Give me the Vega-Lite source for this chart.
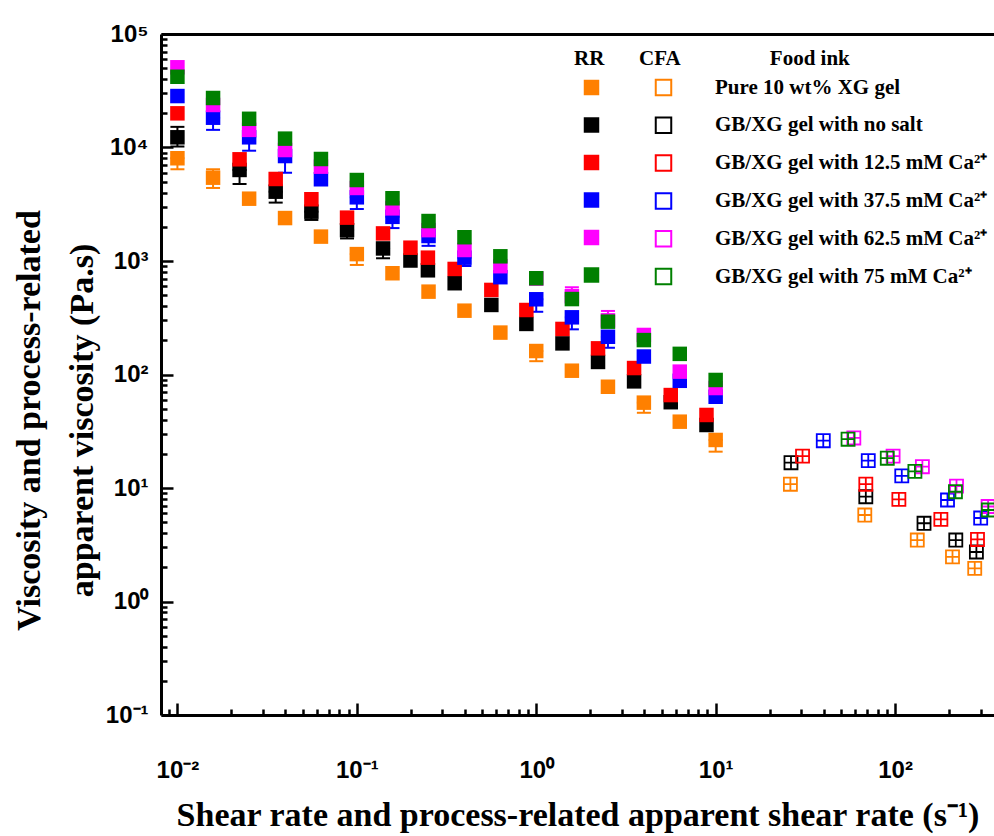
{
  "$schema": "https://vega.github.io/schema/vega-lite/v6.json",
  "width": 833,
  "height": 681,
  "autosize": "none",
  "padding": {"left": 161, "top": 34, "right": 0, "bottom": 121},
  "background": "white",
  "config": {"view": {"stroke": null}, "axis": {"grid": false}},
  "datasets": {
    "rr": [
      {"ink": "Pure 10 wt% XG gel", "rate": 0.01, "visc": 8040, "lo": 6430, "hi": 8040},
      {"ink": "Pure 10 wt% XG gel", "rate": 0.0158, "visc": 5420, "lo": 4400, "hi": 6430},
      {"ink": "Pure 10 wt% XG gel", "rate": 0.0251, "visc": 3540},
      {"ink": "Pure 10 wt% XG gel", "rate": 0.0398, "visc": 2390},
      {"ink": "Pure 10 wt% XG gel", "rate": 0.0631, "visc": 1640},
      {"ink": "Pure 10 wt% XG gel", "rate": 0.1, "visc": 1150, "lo": 923, "hi": 1150},
      {"ink": "Pure 10 wt% XG gel", "rate": 0.158, "visc": 780},
      {"ink": "Pure 10 wt% XG gel", "rate": 0.251, "visc": 537},
      {"ink": "Pure 10 wt% XG gel", "rate": 0.398, "visc": 365},
      {"ink": "Pure 10 wt% XG gel", "rate": 0.631, "visc": 234},
      {"ink": "Pure 10 wt% XG gel", "rate": 1, "visc": 161, "lo": 131, "hi": 161},
      {"ink": "Pure 10 wt% XG gel", "rate": 1.58, "visc": 108},
      {"ink": "Pure 10 wt% XG gel", "rate": 2.51, "visc": 78},
      {"ink": "Pure 10 wt% XG gel", "rate": 3.98, "visc": 56.5, "lo": 46, "hi": 56.5},
      {"ink": "Pure 10 wt% XG gel", "rate": 6.31, "visc": 38.4},
      {"ink": "Pure 10 wt% XG gel", "rate": 10, "visc": 26.5, "lo": 20.9, "hi": 26.5},
      {"ink": "GB/XG gel with no salt", "rate": 0.01, "visc": 12300, "lo": 10200, "hi": 15200},
      {"ink": "GB/XG gel with no salt", "rate": 0.0222, "visc": 6340, "lo": 4770, "hi": 6340},
      {"ink": "GB/XG gel with no salt", "rate": 0.0353, "visc": 4080, "lo": 3270, "hi": 4080},
      {"ink": "GB/XG gel with no salt", "rate": 0.0558, "visc": 2720, "lo": 2300, "hi": 2720},
      {"ink": "GB/XG gel with no salt", "rate": 0.0882, "visc": 1870, "lo": 1580, "hi": 1870},
      {"ink": "GB/XG gel with no salt", "rate": 0.14, "visc": 1290, "lo": 1057, "hi": 1290},
      {"ink": "GB/XG gel with no salt", "rate": 0.199, "visc": 1010},
      {"ink": "GB/XG gel with no salt", "rate": 0.249, "visc": 828},
      {"ink": "GB/XG gel with no salt", "rate": 0.351, "visc": 637},
      {"ink": "GB/XG gel with no salt", "rate": 0.562, "visc": 410},
      {"ink": "GB/XG gel with no salt", "rate": 0.881, "visc": 279},
      {"ink": "GB/XG gel with no salt", "rate": 1.4, "visc": 188},
      {"ink": "GB/XG gel with no salt", "rate": 2.21, "visc": 129},
      {"ink": "GB/XG gel with no salt", "rate": 3.51, "visc": 87},
      {"ink": "GB/XG gel with no salt", "rate": 5.62, "visc": 57},
      {"ink": "GB/XG gel with no salt", "rate": 8.89, "visc": 35.9},
      {"ink": "GB/XG gel with 12.5 mM Ca²⁺", "rate": 0.01, "visc": 20000},
      {"ink": "GB/XG gel with 12.5 mM Ca²⁺", "rate": 0.0222, "visc": 7870},
      {"ink": "GB/XG gel with 12.5 mM Ca²⁺", "rate": 0.0353, "visc": 5280},
      {"ink": "GB/XG gel with 12.5 mM Ca²⁺", "rate": 0.0558, "visc": 3500},
      {"ink": "GB/XG gel with 12.5 mM Ca²⁺", "rate": 0.0882, "visc": 2410},
      {"ink": "GB/XG gel with 12.5 mM Ca²⁺", "rate": 0.14, "visc": 1750},
      {"ink": "GB/XG gel with 12.5 mM Ca²⁺", "rate": 0.199, "visc": 1310},
      {"ink": "GB/XG gel with 12.5 mM Ca²⁺", "rate": 0.249, "visc": 1070},
      {"ink": "GB/XG gel with 12.5 mM Ca²⁺", "rate": 0.351, "visc": 851},
      {"ink": "GB/XG gel with 12.5 mM Ca²⁺", "rate": 0.562, "visc": 556},
      {"ink": "GB/XG gel with 12.5 mM Ca²⁺", "rate": 0.881, "visc": 370},
      {"ink": "GB/XG gel with 12.5 mM Ca²⁺", "rate": 1.4, "visc": 252},
      {"ink": "GB/XG gel with 12.5 mM Ca²⁺", "rate": 2.21, "visc": 170},
      {"ink": "GB/XG gel with 12.5 mM Ca²⁺", "rate": 3.51, "visc": 114},
      {"ink": "GB/XG gel with 12.5 mM Ca²⁺", "rate": 5.62, "visc": 65.9},
      {"ink": "GB/XG gel with 12.5 mM Ca²⁺", "rate": 8.89, "visc": 44},
      {"ink": "GB/XG gel with 37.5 mM Ca²⁺", "rate": 0.01, "visc": 28400},
      {"ink": "GB/XG gel with 37.5 mM Ca²⁺", "rate": 0.0158, "visc": 18300, "lo": 14300, "hi": 18300},
      {"ink": "GB/XG gel with 37.5 mM Ca²⁺", "rate": 0.0251, "visc": 12300, "lo": 9370, "hi": 12300},
      {"ink": "GB/XG gel with 37.5 mM Ca²⁺", "rate": 0.0398, "visc": 8410, "lo": 6000, "hi": 8410},
      {"ink": "GB/XG gel with 37.5 mM Ca²⁺", "rate": 0.0631, "visc": 5250},
      {"ink": "GB/XG gel with 37.5 mM Ca²⁺", "rate": 0.1, "visc": 3640, "lo": 2870, "hi": 3640},
      {"ink": "GB/XG gel with 37.5 mM Ca²⁺", "rate": 0.158, "visc": 2450, "lo": 1950, "hi": 2450},
      {"ink": "GB/XG gel with 37.5 mM Ca²⁺", "rate": 0.251, "visc": 1660, "lo": 1360, "hi": 1660},
      {"ink": "GB/XG gel with 37.5 mM Ca²⁺", "rate": 0.398, "visc": 1070, "lo": 904, "hi": 1070},
      {"ink": "GB/XG gel with 37.5 mM Ca²⁺", "rate": 0.631, "visc": 720},
      {"ink": "GB/XG gel with 37.5 mM Ca²⁺", "rate": 1, "visc": 460, "lo": 357, "hi": 460},
      {"ink": "GB/XG gel with 37.5 mM Ca²⁺", "rate": 1.58, "visc": 319, "lo": 250, "hi": 319},
      {"ink": "GB/XG gel with 37.5 mM Ca²⁺", "rate": 2.51, "visc": 215, "lo": 172, "hi": 215},
      {"ink": "GB/XG gel with 37.5 mM Ca²⁺", "rate": 3.98, "visc": 144},
      {"ink": "GB/XG gel with 37.5 mM Ca²⁺", "rate": 6.31, "visc": 88},
      {"ink": "GB/XG gel with 37.5 mM Ca²⁺", "rate": 10, "visc": 63.7},
      {"ink": "GB/XG gel with 62.5 mM Ca²⁺", "rate": 0.01, "visc": 50900},
      {"ink": "GB/XG gel with 62.5 mM Ca²⁺", "rate": 0.0158, "visc": 23700},
      {"ink": "GB/XG gel with 62.5 mM Ca²⁺", "rate": 0.0251, "visc": 14300},
      {"ink": "GB/XG gel with 62.5 mM Ca²⁺", "rate": 0.0398, "visc": 9500},
      {"ink": "GB/XG gel with 62.5 mM Ca²⁺", "rate": 0.0631, "visc": 6780},
      {"ink": "GB/XG gel with 62.5 mM Ca²⁺", "rate": 0.1, "visc": 4400},
      {"ink": "GB/XG gel with 62.5 mM Ca²⁺", "rate": 0.158, "visc": 2910},
      {"ink": "GB/XG gel with 62.5 mM Ca²⁺", "rate": 0.251, "visc": 1870},
      {"ink": "GB/XG gel with 62.5 mM Ca²⁺", "rate": 0.398, "visc": 1250},
      {"ink": "GB/XG gel with 62.5 mM Ca²⁺", "rate": 0.631, "visc": 900},
      {"ink": "GB/XG gel with 62.5 mM Ca²⁺", "rate": 1, "visc": 700},
      {"ink": "GB/XG gel with 62.5 mM Ca²⁺", "rate": 1.58, "visc": 490, "lo": 490, "hi": 587},
      {"ink": "GB/XG gel with 62.5 mM Ca²⁺", "rate": 2.51, "visc": 300, "lo": 300, "hi": 363},
      {"ink": "GB/XG gel with 62.5 mM Ca²⁺", "rate": 3.98, "visc": 223},
      {"ink": "GB/XG gel with 62.5 mM Ca²⁺", "rate": 6.31, "visc": 106},
      {"ink": "GB/XG gel with 62.5 mM Ca²⁺", "rate": 10, "visc": 76},
      {"ink": "GB/XG gel with 75 mM Ca²⁺", "rate": 0.01, "visc": 42000},
      {"ink": "GB/XG gel with 75 mM Ca²⁺", "rate": 0.0158, "visc": 27300},
      {"ink": "GB/XG gel with 75 mM Ca²⁺", "rate": 0.0251, "visc": 17900},
      {"ink": "GB/XG gel with 75 mM Ca²⁺", "rate": 0.0398, "visc": 11970},
      {"ink": "GB/XG gel with 75 mM Ca²⁺", "rate": 0.0631, "visc": 7920},
      {"ink": "GB/XG gel with 75 mM Ca²⁺", "rate": 0.1, "visc": 5170},
      {"ink": "GB/XG gel with 75 mM Ca²⁺", "rate": 0.158, "visc": 3570},
      {"ink": "GB/XG gel with 75 mM Ca²⁺", "rate": 0.251, "visc": 2250},
      {"ink": "GB/XG gel with 75 mM Ca²⁺", "rate": 0.398, "visc": 1620},
      {"ink": "GB/XG gel with 75 mM Ca²⁺", "rate": 0.631, "visc": 1100},
      {"ink": "GB/XG gel with 75 mM Ca²⁺", "rate": 1, "visc": 705},
      {"ink": "GB/XG gel with 75 mM Ca²⁺", "rate": 1.58, "visc": 462},
      {"ink": "GB/XG gel with 75 mM Ca²⁺", "rate": 2.51, "visc": 292},
      {"ink": "GB/XG gel with 75 mM Ca²⁺", "rate": 3.98, "visc": 201},
      {"ink": "GB/XG gel with 75 mM Ca²⁺", "rate": 6.31, "visc": 152},
      {"ink": "GB/XG gel with 75 mM Ca²⁺", "rate": 10, "visc": 89.5}
    ],
    "cfa": [
      {"ink": "Pure 10 wt% XG gel", "rate": 26.1, "visc": 10.8},
      {"ink": "Pure 10 wt% XG gel", "rate": 67.8, "visc": 5.78},
      {"ink": "Pure 10 wt% XG gel", "rate": 133, "visc": 3.48},
      {"ink": "Pure 10 wt% XG gel", "rate": 209, "visc": 2.47},
      {"ink": "Pure 10 wt% XG gel", "rate": 278, "visc": 1.96},
      {"ink": "GB/XG gel with no salt", "rate": 26.3, "visc": 16.7},
      {"ink": "GB/XG gel with no salt", "rate": 68.7, "visc": 8.38},
      {"ink": "GB/XG gel with no salt", "rate": 145, "visc": 4.89},
      {"ink": "GB/XG gel with no salt", "rate": 218, "visc": 3.48},
      {"ink": "GB/XG gel with no salt", "rate": 284, "visc": 2.73},
      {"ink": "GB/XG gel with 12.5 mM Ca²⁺", "rate": 30.5, "visc": 19.1},
      {"ink": "GB/XG gel with 12.5 mM Ca²⁺", "rate": 68.7, "visc": 10.8},
      {"ink": "GB/XG gel with 12.5 mM Ca²⁺", "rate": 105, "visc": 7.94},
      {"ink": "GB/XG gel with 12.5 mM Ca²⁺", "rate": 180, "visc": 5.3},
      {"ink": "GB/XG gel with 12.5 mM Ca²⁺", "rate": 288, "visc": 3.52},
      {"ink": "GB/XG gel with 37.5 mM Ca²⁺", "rate": 39.8, "visc": 26.1},
      {"ink": "GB/XG gel with 37.5 mM Ca²⁺", "rate": 70.9, "visc": 17.4},
      {"ink": "GB/XG gel with 37.5 mM Ca²⁺", "rate": 109, "visc": 12.8},
      {"ink": "GB/XG gel with 37.5 mM Ca²⁺", "rate": 196, "visc": 7.84},
      {"ink": "GB/XG gel with 37.5 mM Ca²⁺", "rate": 300, "visc": 5.44},
      {"ink": "GB/XG gel with 62.5 mM Ca²⁺", "rate": 58.9, "visc": 27.6},
      {"ink": "GB/XG gel with 62.5 mM Ca²⁺", "rate": 97.5, "visc": 19.1},
      {"ink": "GB/XG gel with 62.5 mM Ca²⁺", "rate": 142, "visc": 15.4},
      {"ink": "GB/XG gel with 62.5 mM Ca²⁺", "rate": 220, "visc": 10.4},
      {"ink": "GB/XG gel with 62.5 mM Ca²⁺", "rate": 330, "visc": 6.87},
      {"ink": "GB/XG gel with 75 mM Ca²⁺", "rate": 54.7, "visc": 26.9},
      {"ink": "GB/XG gel with 75 mM Ca²⁺", "rate": 90.5, "visc": 18.3},
      {"ink": "GB/XG gel with 75 mM Ca²⁺", "rate": 129, "visc": 14.0},
      {"ink": "GB/XG gel with 75 mM Ca²⁺", "rate": 217, "visc": 9.27},
      {"ink": "GB/XG gel with 75 mM Ca²⁺", "rate": 331, "visc": 6.4}
    ]
  },
  "resolve": {"axis": {"x": "independent", "y": "independent"}},
  "layer": [
    {
      "data": {"name": "rr"},
      "transform": [{"filter": "isValid(datum.lo)"}],
      "mark": {"type": "rule", "strokeWidth": 2},
      "encoding": {
        "x": {
          "field": "rate", "type": "quantitative",
          "scale": {"type": "log", "domain": [0.0081, 356], "nice": false},
          "axis": {
            "orient": "bottom",
            "values": [0.009, 0.01, 0.02, 0.03, 0.04, 0.05, 0.06, 0.07, 0.08, 0.09, 0.1, 0.2, 0.3, 0.4, 0.5, 0.6, 0.7, 0.8, 0.9, 1, 2, 3, 4, 5, 6, 7, 8, 9, 10, 20, 30, 40, 50, 60, 70, 80, 90, 100, 200, 300],
            "title": "Shear rate and process-related apparent shear rate (s⁻¹)",
            "titleFont": "Liberation Serif", "titleFontWeight": "bold", "titleFontSize": 34, "titleColor": "black",
            "titleY": 110, "titleBaseline": "alphabetic",
            "domainColor": "black", "domainWidth": 3,
            "tickColor": "black", "tickWidth": 2.5,
            "tickSize": {"condition": {"test": "abs(log(datum.value)/LN10 - round(log(datum.value)/LN10)) < 0.001", "value": -12}, "value": -6},
            "labelExpr": "abs(log(datum.value)/LN10 - round(log(datum.value)/LN10)) < 0.001 ? '10' + ['⁻²','⁻¹','⁰','¹','²'][round(log(datum.value)/LN10) + 2] : ''",
            "labelFont": "Liberation Sans", "labelFontWeight": "bold", "labelFontSize": 24, "labelColor": "black",
            "labelPadding": 55, "labelOverlap": false, "labelFlush": false, "grid": false
          }
        },
        "y": {
          "field": "lo", "type": "quantitative",
          "scale": {"type": "log", "domain": [0.1, 100000], "nice": false},
          "axis": {
            "orient": "left",
            "values": [0.1, 0.2, 0.3, 0.4, 0.5, 0.6, 0.7, 0.8, 0.9, 1, 2, 3, 4, 5, 6, 7, 8, 9, 10, 20, 30, 40, 50, 60, 70, 80, 90, 100, 200, 300, 400, 500, 600, 700, 800, 900, 1000, 2000, 3000, 4000, 5000, 6000, 7000, 8000, 9000, 10000, 20000, 30000, 40000, 50000, 60000, 70000, 80000, 90000, 100000],
            "title": ["Viscosity and process-related", "apparent viscosity (Pa.s)"],
            "titleFont": "Liberation Serif", "titleFontWeight": "bold", "titleFontSize": 34, "titleColor": "black",
            "titleAngle": -90, "titleX": -122, "titleY": 386, "titleAlign": "center", "titleBaseline": "alphabetic", "titleLineHeight": 53,
            "domainColor": "black", "domainWidth": 3,
            "tickColor": "black", "tickWidth": 2.5,
            "tickSize": {"condition": {"test": "abs(log(datum.value)/LN10 - round(log(datum.value)/LN10)) < 0.001", "value": -12}, "value": -6},
            "labelExpr": "abs(log(datum.value)/LN10 - round(log(datum.value)/LN10)) < 0.001 ? '10' + ['⁻¹','⁰','¹','²','³','⁴','⁵'][round(log(datum.value)/LN10) + 1] : ''",
            "labelFont": "Liberation Sans", "labelFontWeight": "bold", "labelFontSize": 24, "labelColor": "black",
            "labelPadding": 25, "labelOverlap": false, "labelFlush": false, "grid": false
          }
        },
        "y2": {"field": "hi"},
        "color": {
          "field": "ink", "type": "nominal",
          "scale": {"domain": ["Pure 10 wt% XG gel", "GB/XG gel with no salt", "GB/XG gel with 12.5 mM Ca²⁺", "GB/XG gel with 37.5 mM Ca²⁺", "GB/XG gel with 62.5 mM Ca²⁺", "GB/XG gel with 75 mM Ca²⁺"], "range": ["#FF8000", "#000000", "#FF0000", "#0000FF", "#FF00FF", "#008000"]},
          "legend": null
        }
      }
    },
    {
      "data": {"name": "rr"},
      "transform": [{"filter": "isValid(datum.lo)"}],
      "mark": {"type": "tick", "orient": "horizontal", "size": 14, "thickness": 2, "opacity": 1},
      "encoding": {
        "x": {"field": "rate", "type": "quantitative", "scale": {"type": "log", "domain": [0.0081, 356], "nice": false}, "axis": null},
        "y": {"field": "lo", "type": "quantitative", "scale": {"type": "log", "domain": [0.1, 100000], "nice": false}, "axis": null},
        "color": {"field": "ink", "type": "nominal", "legend": null}
      }
    },
    {
      "data": {"name": "rr"},
      "transform": [{"filter": "isValid(datum.hi)"}],
      "mark": {"type": "tick", "orient": "horizontal", "size": 14, "thickness": 2, "opacity": 1},
      "encoding": {
        "x": {"field": "rate", "type": "quantitative", "scale": {"type": "log", "domain": [0.0081, 356], "nice": false}, "axis": null},
        "y": {"field": "hi", "type": "quantitative", "scale": {"type": "log", "domain": [0.1, 100000], "nice": false}, "axis": null},
        "color": {"field": "ink", "type": "nominal", "legend": null}
      }
    },
    {
      "data": {"name": "rr"},
      "mark": {"type": "point", "shape": "square", "filled": true, "size": 210, "opacity": 1, "strokeWidth": 0},
      "encoding": {
        "x": {"field": "rate", "type": "quantitative", "scale": {"type": "log", "domain": [0.0081, 356], "nice": false},
          "axis": {"orient": "top", "domain": true, "domainColor": "black", "domainWidth": 3, "ticks": false, "labels": false, "title": null, "grid": false}},
        "y": {"field": "visc", "type": "quantitative", "scale": {"type": "log", "domain": [0.1, 100000], "nice": false}, "axis": null},
        "fill": {
          "field": "ink", "type": "nominal",
          "sort": ["Pure 10 wt% XG gel", "GB/XG gel with no salt", "GB/XG gel with 12.5 mM Ca²⁺", "GB/XG gel with 37.5 mM Ca²⁺", "GB/XG gel with 62.5 mM Ca²⁺", "GB/XG gel with 75 mM Ca²⁺"],
          "scale": {"range": ["#FF8000", "#000000", "#FF0000", "#0000FF", "#FF00FF", "#008000"]},
          "legend": {
            "title": "RR", "orient": "none", "legendX": 413, "legendY": 14, "padding": 0,
            "titleFont": "Liberation Serif", "titleFontWeight": "bold", "titleFontSize": 21, "titleColor": "black", "titleAnchor": "start", "titlePadding": 8,
            "symbolType": "square", "symbolSize": 240, "symbolStrokeWidth": 0, "symbolOpacity": 1, "symbolOffset": 7,
            "labelExpr": "' '", "labelFont": "Liberation Serif", "labelFontWeight": "bold", "labelFontSize": 21, "labelLimit": 400,
            "rowPadding": 15.5
          }
        }
      }
    },
    {
      "data": {"name": "cfa"},
      "mark": {"type": "point", "shape": "M-1,-1H1V1H-1ZM-1,0H1M0,-1V1", "filled": false, "size": 170, "strokeWidth": 1.8, "opacity": 1},
      "encoding": {
        "x": {"field": "rate", "type": "quantitative", "scale": {"type": "log", "domain": [0.0081, 356], "nice": false}, "axis": null},
        "y": {"field": "visc", "type": "quantitative", "scale": {"type": "log", "domain": [0.1, 100000], "nice": false}, "axis": null},
        "stroke": {
          "field": "ink", "type": "nominal",
          "sort": ["Pure 10 wt% XG gel", "GB/XG gel with no salt", "GB/XG gel with 12.5 mM Ca²⁺", "GB/XG gel with 37.5 mM Ca²⁺", "GB/XG gel with 62.5 mM Ca²⁺", "GB/XG gel with 75 mM Ca²⁺"],
          "scale": {"range": ["#FF8000", "#000000", "#FF0000", "#0000FF", "#FF00FF", "#008000"]},
          "legend": {
            "title": "CFA\u00a0\u00a0\u00a0\u00a0\u00a0\u00a0\u00a0\u00a0\u00a0\u00a0\u00a0\u00a0\u00a0\u00a0\u00a0\u00a0\u00a0Food ink", "orient": "none", "legendX": 478, "legendY": 14, "padding": 0,
            "titleFont": "Liberation Serif", "titleFontWeight": "bold", "titleFontSize": 21, "titleColor": "black", "titleAnchor": "start", "titlePadding": 8, "titleLimit": 500,
            "symbolType": "square", "symbolSize": 240, "symbolStrokeWidth": 2, "symbolOpacity": 1, "symbolOffset": 14,
            "labelOffset": 41, "labelFont": "Liberation Serif", "labelFontWeight": "bold", "labelFontSize": 21, "labelColor": "black", "labelLimit": 400,
            "rowPadding": 12.8
          }
        }
      }
    }
  ]
}
